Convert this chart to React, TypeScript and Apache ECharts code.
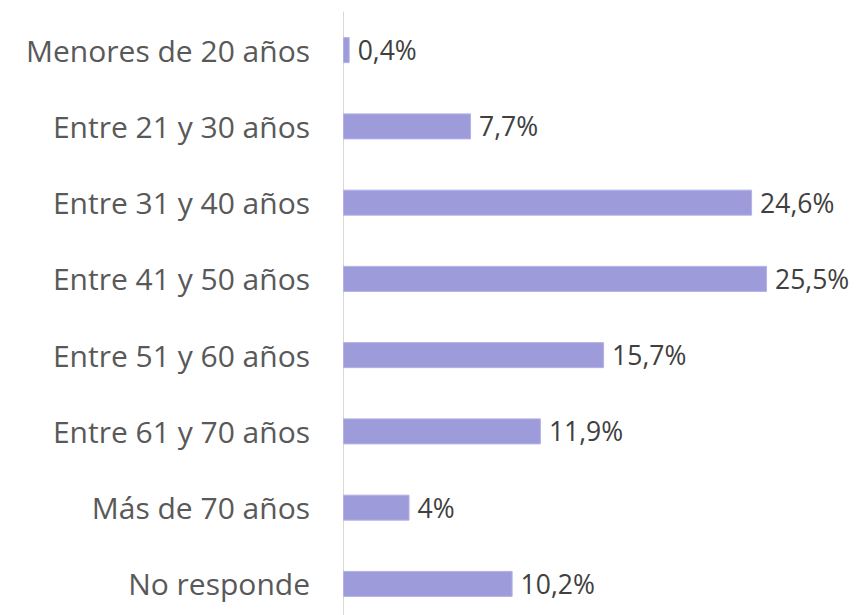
import React, { useEffect, useRef } from "react";
import * as echarts from "echarts";

const categories = [
  "Menores de 20 años",
  "Entre 21 y 30 años",
  "Entre 31 y 40 años",
  "Entre 41 y 50 años",
  "Entre 51 y 60 años",
  "Entre 61 y 70 años",
  "Más de 70 años",
  "No responde",
];
const values = [0.4, 7.7, 24.6, 25.5, 15.7, 11.9, 4, 10.2];
const valueLabels = ["0,4%", "7,7%", "24,6%", "25,5%", "15,7%", "11,9%", "4%", "10,2%"];

export default function App() {
  const ref = useRef<HTMLDivElement>(null);
  useEffect(() => {
    if (!ref.current) return;
    const chart = echarts.init(ref.current, undefined, { renderer: "svg" });
    chart.setOption({
      animation: false,
      grid: { left: 343, right: 0, top: 12, bottom: 0, containLabel: false },
      xAxis: {
        type: "value",
        min: 0,
        max: 31.15,
        show: false,
      },
      yAxis: {
        type: "category",
        data: categories,
        inverse: true,
        axisLine: { show: true, lineStyle: { color: "#d9d9d9", width: 1 } },
        axisTick: { show: false },
        axisLabel: {
          margin: 33,
          color: "#595959",
          fontFamily: "Open Sans",
          fontSize: 30,
        },
      },
      series: [
        {
          type: "bar",
          data: values,
          barWidth: 26,
          itemStyle: { color: "#9d9bda", borderColor: "#b3b1e4", borderWidth: 1 },
          label: {
            show: true,
            position: "right",
            distance: 8,
            color: "#404040",
            fontFamily: "Open Sans",
            fontSize: 26.5,
            formatter: (p: any) => valueLabels[p.dataIndex],
          },
        },
      ],
    });
    return () => chart.dispose();
  }, []);
  return (
    <div
      style={{ position: "absolute", left: 0, top: 0, width: 861, height: 615, overflow: "hidden", background: "#fff" }}
    >
      <div ref={ref} style={{ width: 861, height: 622 }} />
    </div>
  );
}
